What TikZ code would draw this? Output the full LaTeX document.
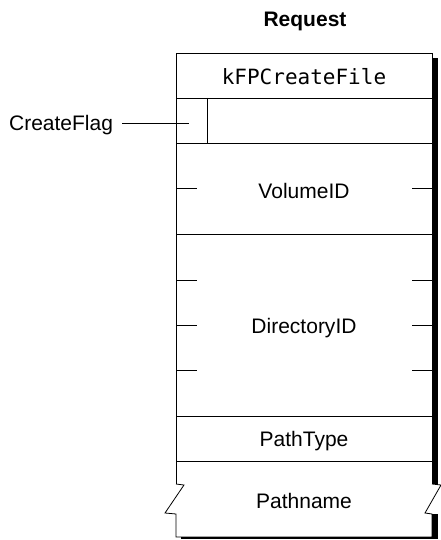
\documentclass[tikz,border=0pt]{standalone}
\usepackage{fontspec}
\setmainfont{Liberation Sans}
\setmonofont{DejaVu Sans Mono}
\begin{document}
\begin{tikzpicture}[x=1pt,y=-1pt]
\tikzstyle{campo}=[font=\fontsize{21}{25}\selectfont, inner sep=0, anchor=base]
\tikzstyle{borda}=[line width=.8pt]
\useasboundingbox (0,0) rectangle (441,540);
% sombra
\fill (432,58) rectangle (438,484);
\fill (432,514) rectangle (438,539);
\fill (181,537) rectangle (438,539);
% caixa
\draw[borda] (176,484)--(176,53)--(432,53)--(432,484);
\draw[borda] (176,484)--(184,485)--(165,513)--(176,514)--(176,537)--(432,537)--(432,514)--(425,513)--(441,485)--(432,484);
\foreach \y in {98,143,234,416,461}
\draw[borda](176,\y)--(432,\y);
\draw[borda](207,98)--(207,143);
\foreach \y in {188,280,325,370}
{\draw[borda](176,\y)--(197,\y); \draw[borda](412,\y)--(432,\y);}
% textos
\node[campo] (titulo) at (305,27) {\bfseries Request};
\node[campo] (comando) at (304,85) {\ttfamily kFPCreateFile};
\node[campo] (volume) at (304,198) {VolumeID};
\node[campo] (diretorio) at (304,333) {DirectoryID};
\node[campo] (tipo) at (304,446) {PathType};
\node[campo] (nome) at (304,508) {Pathname};
\node[campo, anchor=base east, outer xsep=9pt] (flag) at (122,131) {CreateFlag};
\coordinate (flagfim) at (189,123);
\draw[borda] (flag.east|-flagfim)--(flagfim);
\end{tikzpicture}
\end{document}
